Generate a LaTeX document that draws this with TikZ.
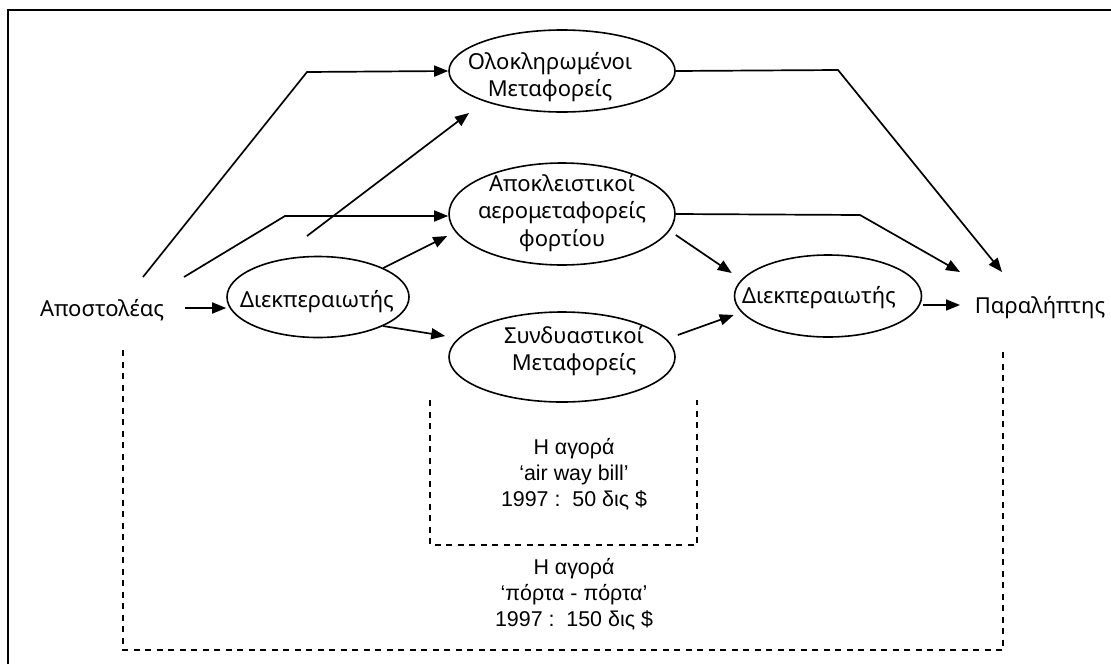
\documentclass[tikz,border=0pt]{standalone}
\usepackage{fontspec}
\setmainfont{Liberation Sans}
\newfontfamily\nodefont{Noto Sans}
\usetikzlibrary{shapes.geometric,arrows.meta,calc}
\begin{document}
\begin{tikzpicture}[x=0.5pt,y=-0.5pt,
  ell/.style={draw, ellipse, line width=0.8pt, inner sep=0pt},
  txt/.style={inner sep=0pt, font=\nodefont\fontsize{11}{13.7}\selectfont, align=center},
  mkt/.style={inner sep=0pt, font=\fontsize{10.7}{13}\selectfont, align=center},
  arr/.style={line width=0.85pt, -{Triangle[length=7pt,width=5.5pt]}},
  dsh/.style={line width=1pt, dash pattern=on 3pt off 2.75pt},
]
\useasboundingbox (0,0) rectangle (1111,664);
\draw[line width=1pt] (8,664) -- (8,10) -- (1111,10);

% ellipses
\node[ell, minimum width=113pt, minimum height=41pt] (e1) at (562,71) {};
\node[txt] (e1t) at (550,77) {Ολοκληρωμένοι\\Μεταφορείς};
\node[ell, minimum width=113pt, minimum height=51pt] (e2) at (562,214) {};
\node[txt] (e2t) at (562,213) {Αποκλειστικοί\\αερομεταφορείς\\φορτίου};
\node[ell, minimum width=113pt, minimum height=45pt] (e3) at (562,357) {};
\node[txt] (e3t) at (574,351) {Συνδυαστικοί\\Μεταφορείς};
\node[ell, minimum width=91pt, minimum height=40.5pt] (dl) at (318,297) {};
\node[txt] (dlt) at (317,302) {Διεκπεραιωτής};
\node[ell, minimum width=93.5pt, minimum height=41pt] (dr) at (828,296) {};
\node[txt] (drt) at (819,298) {Διεκπεραιωτής};

% end texts
\node[txt] (snd) at (102,310) {Αποστολέας};
\node[txt] (rcv) at (1040,308) {Παραλήπτης};

% bend points and free ends
\coordinate (a1c) at (307,72);
\coordinate (a2c) at (285,216);
\coordinate (f1) at (307,236);
\coordinate (f2) at (469,113);
\coordinate (b1c) at (838,70);
\coordinate (b2c) at (860,215);

% connectors
\draw[arr] ($(snd)+(41,-33)$) -- (a1c) -- (e1.west);
\draw[arr] ($(snd)+(82,-33)$) -- (a2c) -- ($(e2.west)+(0,2)$);
\draw[arr] (f1) -- (f2);
\draw[arr] ($(snd)+(83,-2)$) -- ($(dl.west)+(0,11)$);
\draw[arr] (dl.24) -- ($(e2.west)+(-1,22)$);
\draw[arr] (dl.-24) -- ($(e3.west)+(-3,-21)$);
\draw[arr] (e1.east) -- (b1c) -- ($(rcv)+(-38,-36)$);
\draw[arr] (e2.east) -- (b2c) -- ($(rcv)+(-80,-36)$);
\draw[arr] ($(e2.east)+(0,21)$) -- ($(dr.west)+(-2,-23)$);
\draw[arr] ($(e3.east)+(2,-22)$) -- ($(dr.west)+(0,19)$);
\draw[arr] ($(dr.east)+(1,9)$) -- ($(rcv)+(-80,-3)$);

% market brackets
\draw[dsh] (123,350) -- (123,650) -- (1003,650) -- (1003,348);
\draw[dsh] (430,400) -- (430,545) -- (697,545) -- (697,400);

\node[mkt] (m1) at (574,474) {Η αγορά\\‘air way bill’\\1997 :~~50 δις \$};
\node[mkt] (m2) at (574,594) {Η αγορά\\‘πόρτα - πόρτα’\\1997 :~~150 δις \$};
\end{tikzpicture}
\end{document}
